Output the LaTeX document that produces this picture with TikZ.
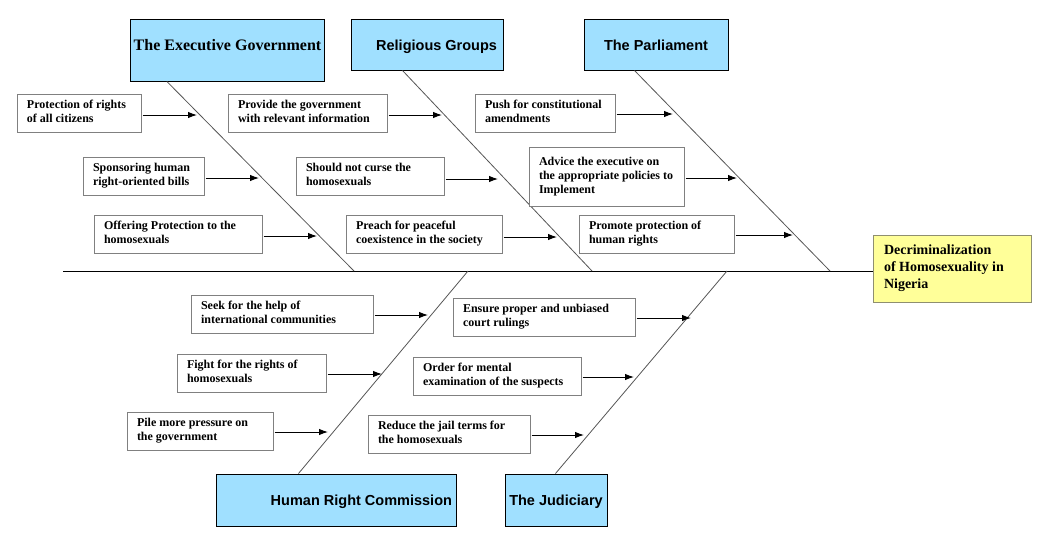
\documentclass[tikz,border=0pt]{standalone}
\usepackage{fontspec}
\setmainfont{Liberation Serif}
\newfontfamily\timesfont{Liberation Serif}
\newfontfamily\arialfont{Liberation Sans}
\usetikzlibrary{arrows.meta}
\definecolor{causeblue}{HTML}{A0E0FF}
\definecolor{effectyellow}{HTML}{FFFF99}
\definecolor{subgrey}{HTML}{808080}
\definecolor{bonegrey}{HTML}{555555}
\definecolor{headborder}{HTML}{8F8F70}
\newcommand\subtext[2]{\makebox[#1][l]{\begin{tabular}{@{}l@{}}#2\end{tabular}}}
\begin{document}
\begin{tikzpicture}[x=1pt,y=-1pt,
  sub/.style={draw=subgrey,line width=1pt,fill=white,inner xsep=10pt,inner ysep=0pt,
    minimum height=38pt,font=\timesfont\bfseries\fontsize{12}{14}\selectfont},
  cause/.style={draw=black,line width=1pt,fill=causeblue,inner ysep=0pt},
  sanscause/.style={cause,font=\arialfont\bfseries\fontsize{14.5}{17}\selectfont,
    text height=31pt},
  effect/.style={draw=headborder,line width=1pt,fill=effectyellow,inner xsep=11pt,inner ysep=0pt,
    minimum height=67pt,font=\timesfont\bfseries\fontsize{14}{17}\selectfont},
  bone/.style={draw=bonegrey,line width=0.8pt},
  spine/.style={draw=black,line width=1pt},
  arr/.style={draw=black,line width=1pt,-{Latex[length=9pt,width=6.5pt]},shorten <=1pt}]
\useasboundingbox (0,0) rectangle (1037,542);

% effect
\node[effect] (head) at (952,268.5) {\subtext{136pt}{Decriminalization\\of Homosexuality in\\Nigeria}};

% causes
\node[cause,font=\timesfont\bfseries\fontsize{16}{19}\selectfont,minimum width=193pt,text height=31pt,text depth=31pt]
  (eg) at (227.5,50) {The Executive Government};
\node[sanscause,inner xsep=6pt,text depth=20pt] (rg) at (427,44.5) {\makebox[140pt][r]{Religious Groups}};
\node[sanscause,minimum width=144pt,text depth=20pt] (pa) at (656,44.5) {The Parliament};
\node[sanscause,inner xsep=4pt,text depth=21pt] (hr) at (336,500) {\makebox[232pt][r]{Human Right Commission}};
\node[sanscause,minimum width=102pt,text depth=21pt] (ju) at (556,500) {The Judiciary};

% spine
\coordinate (tail) at (63,271);
\draw[spine] (tail) -- (tail -| head.west);

% bones
\coordinate (s1) at (354,271);
\coordinate (s2) at (592,271);
\coordinate (s3) at (830,271);
\coordinate (s4) at (468,271);
\coordinate (s5) at (727,271);
\draw[bone] ([xshift=37pt]eg.south west) -- (s1);
\draw[bone] ([xshift=52pt]rg.south west) -- (s2);
\draw[bone] ([xshift=51pt]pa.south west) -- (s3);
\draw[bone] ([xshift=83pt]hr.north west) -- (s4);
\draw[bone] ([xshift=51pt]ju.north west) -- (s5);

% sub causes: executive
\node[sub] (e1) at (79,113) {\subtext{104pt}{Protection of rights\\of all citizens}};
\node[sub] (e2) at (143.5,176) {\subtext{101pt}{Sponsoring human\\right-oriented bills}};
\node[sub] (e3) at (178,234) {\subtext{148pt}{Offering Protection to the\\homosexuals}};
% religious
\node[sub] (r1) at (307.5,113) {\subtext{139pt}{Provide the government\\with relevant information}};
\node[sub] (r2) at (370,176) {\subtext{128pt}{Should not curse the\\homosexuals}};
\node[sub] (r3) at (424,234) {\subtext{136pt}{Preach for peaceful\\coexistence in the society}};
% parliament
\node[sub] (p1) at (545,113) {\subtext{120pt}{Push for constitutional\\amendments}};
\node[sub,minimum height=59pt] (p2) at (606.5,176.5) {\subtext{135pt}{Advice the executive on\\the appropriate policies to\\Implement}};
\node[sub] (p3) at (656.5,234) {\subtext{135pt}{Promote protection of\\human rights}};
% human right commission
\node[sub] (h1) at (282,314) {\subtext{162pt}{Seek for the help of\\international communities}};
\node[sub] (h2) at (251.5,373) {\subtext{129pt}{Fight for the rights of\\homosexuals}};
\node[sub] (h3) at (200,431) {\subtext{126pt}{Pile more pressure on\\the government}};
% judiciary
\node[sub] (j1) at (544,317) {\subtext{162pt}{Ensure proper and unbiased\\court rulings}};
\node[sub] (j2) at (497,376) {\subtext{148pt}{Order for mental\\examination of the suspects}};
\node[sub] (j3) at (449,434) {\subtext{142pt}{Reduce the jail terms for\\the homosexuals}};

% arrow targets
\coordinate (ae1) at (197,115);
\coordinate (ae2) at (259,178);
\coordinate (ae3) at (317,236);
\coordinate (ar1) at (442,115);
\coordinate (ar2) at (498,179);
\coordinate (ar3) at (557,237);
\coordinate (ap1) at (673,114);
\coordinate (ap2) at (737,178);
\coordinate (ap3) at (793,235);
\coordinate (ah1) at (428,315);
\coordinate (ah2) at (382,374);
\coordinate (ah3) at (328,432);
\coordinate (aj1) at (691,318);
\coordinate (aj2) at (634,377);
\coordinate (aj3) at (584,435);

\draw[arr] (e1.east |- ae1) -- (ae1);
\draw[arr] (e2.east |- ae2) -- (ae2);
\draw[arr] (e3.east |- ae3) -- (ae3);
\draw[arr] (r1.east |- ar1) -- (ar1);
\draw[arr] (r2.east |- ar2) -- (ar2);
\draw[arr] (r3.east |- ar3) -- (ar3);
\draw[arr] (p1.east |- ap1) -- (ap1);
\draw[arr] (p2.east |- ap2) -- (ap2);
\draw[arr] (p3.east |- ap3) -- (ap3);
\draw[arr] (h1.east |- ah1) -- (ah1);
\draw[arr] (h2.east |- ah2) -- (ah2);
\draw[arr] (h3.east |- ah3) -- (ah3);
\draw[arr] (j1.east |- aj1) -- (aj1);
\draw[arr] (j2.east |- aj2) -- (aj2);
\draw[arr] (j3.east |- aj3) -- (aj3);
\end{tikzpicture}
\end{document}
